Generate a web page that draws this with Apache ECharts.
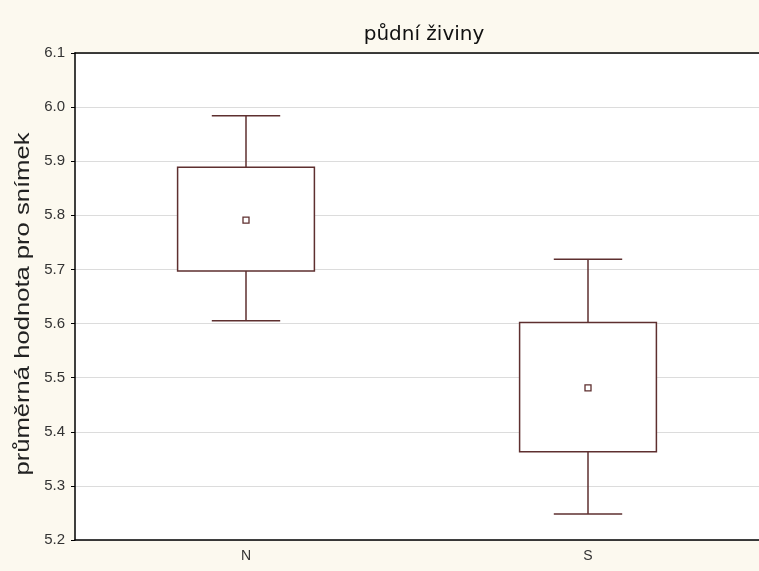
<!DOCTYPE html>
<html>
<head>
<meta charset="utf-8">
<script src="https://cdn.jsdelivr.net/npm/echarts@6/dist/echarts.min.js"></script>
<style>
  html, body { margin: 0; padding: 0; background: #fcf9ef; }
  #chart { width: 759px; height: 571px; }
</style>
</head>
<body>
<div id="chart"></div>
<script>
// Groups on the x axis
var categories = ['N', 'S'];
// Group means (small square marker)
var means = [5.791, 5.481];
// Box: lower / upper edge
var boxLow = [5.697, 5.363];
var boxHigh = [5.889, 5.602];
// Whiskers: lower / upper end
var whiskerLow = [5.605, 5.248];
var whiskerHigh = [5.984, 5.719];
// Y axis range and step
var yMin = 5.2, yMax = 6.1, yStep = 0.1;
// Texts
var titleText = 'půdní živiny';
var yAxisTitle = 'průměrná hodnota pro snímek';

var boxColor = '#5e2f2f';

var seriesData = categories.map(function (c, i) {
  return [i, means[i], boxLow[i], boxHigh[i], whiskerLow[i], whiskerHigh[i]];
});

var chart = echarts.init(document.getElementById('chart'));

chart.setOption({
  backgroundColor: '#fcf9ef',
  animation: false,
  graphic: [{
    type: 'text',
    x: 424,
    y: 25,
    style: {
      text: titleText,
      textAlign: 'center',
      textVerticalAlign: 'top',
      font: '20px "DejaVu Sans"',
      fill: '#111'
    }
  }, {
    // vertical axis title, slightly widened along its run
    type: 'text',
    x: 23,
    y: 304,
    rotation: Math.PI / 2,
    scaleX: 1.28,
    style: {
      text: yAxisTitle,
      textAlign: 'center',
      textVerticalAlign: 'middle',
      font: '20px "Liberation Sans"',
      fill: '#222'
    }
  }],
  grid: {
    left: 75, right: 0, top: 53, bottom: 31,
    show: true, backgroundColor: '#ffffff', borderWidth: 0
  },
  xAxis: [{
    type: 'category',
    data: categories,
    boundaryGap: true,
    axisLine: { lineStyle: { color: '#000', width: 1.5 } },
    axisTick: { inside: true, length: 4, alignWithLabel: true, lineStyle: { color: '#000' } },
    axisLabel: { margin: 9, fontFamily: 'Liberation Sans', fontSize: 14, color: '#333' },
    splitLine: { show: false }
  }, {
    type: 'category',
    data: categories,
    position: 'top',
    axisLine: { lineStyle: { color: '#000', width: 1.5 } },
    axisTick: { show: false },
    axisLabel: { show: false },
    splitLine: { show: false }
  }],
  yAxis: {
    type: 'value',
    min: yMin, max: yMax, interval: yStep,
    axisLine: { show: true, lineStyle: { color: '#000', width: 1.5 } },
    axisTick: { show: true, length: 4, lineStyle: { color: '#000' } },
    axisLabel: {
      margin: 10, fontFamily: 'Liberation Sans', fontSize: 15, color: '#333',
      formatter: function (v) { return v.toFixed(1); }
    },
    splitLine: { show: true, lineStyle: { color: '#dcdcdc', width: 1 } }
  },
  series: [{
    type: 'custom',
    data: seriesData,
    encode: { x: 0, y: [1, 2, 3, 4, 5] },
    renderItem: function (params, api) {
      var x = api.value(0);
      var band = api.size([1, 0])[0];
      var boxHalf = band * 0.2;
      var capHalf = band * 0.1;
      var pMean = api.coord([x, api.value(1)]);
      var pLo = api.coord([x, api.value(2)]);
      var pHi = api.coord([x, api.value(3)]);
      var pWLo = api.coord([x, api.value(4)]);
      var pWHi = api.coord([x, api.value(5)]);
      var cx = pMean[0];
      var line = { stroke: boxColor, lineWidth: 1.5, fill: null };
      return {
        type: 'group',
        children: [
          { type: 'line', shape: { x1: cx, y1: pHi[1], x2: cx, y2: pWHi[1] }, style: line },
          { type: 'line', shape: { x1: cx, y1: pLo[1], x2: cx, y2: pWLo[1] }, style: line },
          { type: 'line', shape: { x1: cx - capHalf, y1: pWHi[1], x2: cx + capHalf, y2: pWHi[1] }, style: line },
          { type: 'line', shape: { x1: cx - capHalf, y1: pWLo[1], x2: cx + capHalf, y2: pWLo[1] }, style: line },
          { type: 'rect', shape: { x: cx - boxHalf, y: pHi[1], width: boxHalf * 2, height: pLo[1] - pHi[1] },
            style: { stroke: boxColor, lineWidth: 1.5, fill: '#ffffff' } },
          { type: 'rect', shape: { x: cx - 3, y: pMean[1] - 3, width: 6, height: 6 },
            style: { stroke: boxColor, lineWidth: 1.3, fill: '#ffffff' } }
        ]
      };
    }
  }]
});
</script>
</body>
</html>
